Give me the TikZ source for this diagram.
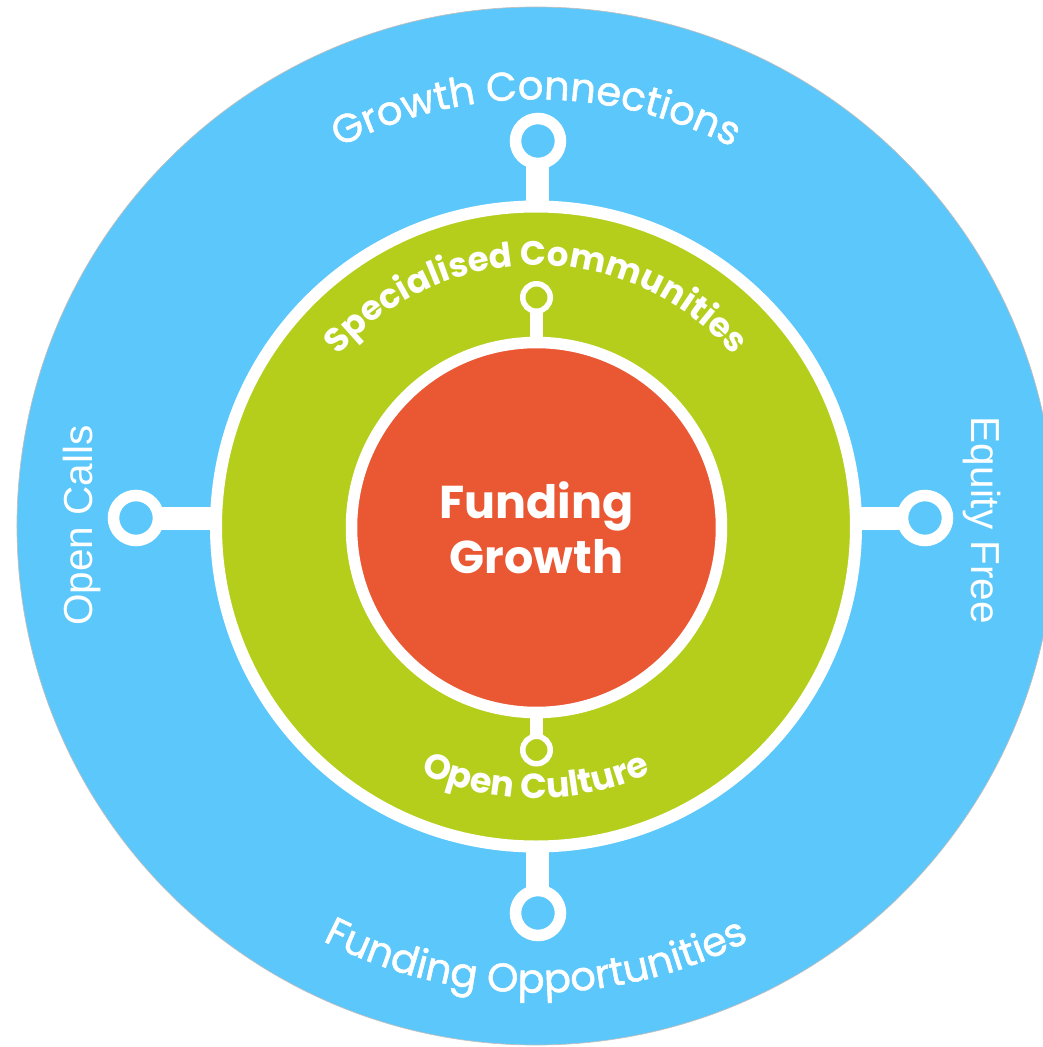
\documentclass[tikz,border=0pt]{standalone}
\usepackage{fontspec}
\usetikzlibrary{decorations.text}
\newfontfamily\popfont{Poppins}
\newfontfamily\popthick{Poppins}[FakeBold=1.3]
\newfontfamily\callfont{Liberation Sans}
\definecolor{ringblue}{HTML}{5BC7FA}
\definecolor{ringgreen}{HTML}{B5CE1B}
\definecolor{corered}{HTML}{EA5733}
\newcommand\outerfont{\popthick\fontsize{40}{48}\selectfont}
\newcommand\innerfont{\popfont\bfseries\fontsize{34}{40}\selectfont}
\begin{document}
\begin{tikzpicture}[x=1pt,y=1pt,
  pin/.style={circle,draw=white,fill=ringblue,line width=11.5pt,minimum size=45pt,inner sep=0pt},
  minipin/.style={circle,draw=white,fill=ringgreen,line width=5.5pt,minimum size=27.5pt,inner sep=0pt},
  stem/.style={white,line width=23pt,shorten <=-6pt,shorten >=-3pt},
  ministem/.style={white,line width=13pt,shorten <=-3pt,shorten >=-3pt},
  sidetext/.style={text=white,font=\callfont\fontsize{40.5}{48}\selectfont,inner sep=0pt,anchor=base},
  arclabel/.style={decorate,decoration={text along path,text align=center,text color=white,text={#1}}}]
   \useasboundingbox (-536,-520) rectangle (507,527);
   \node[circle,fill=ringblue,draw=black!25,line width=0.7pt,minimum size=1038pt,inner sep=0pt] (disc) at (0,1) {};
   \node[circle,fill=ringgreen,draw=white,line width=12pt,minimum size=640pt,inner sep=0pt] (mid) at (0,0.5) {};
   \node[circle,fill=corered,draw=white,line width=11.5pt,minimum size=370pt,inner sep=0pt,
    text=white,align=center,font=\popfont\bfseries\fontsize{46}{55}\selectfont] (core) at (0.5,-0.5) {Funding\\Growth};
   \foreach \p/\x/\y in {N/2/386,S/2/-386,W/-400/9,E/389/9}
    \node[pin] (pin\p) at (\x,\y) {};
   \node[minipin] (pinIN) at (0.5,229.5) {};
   \node[minipin] (pinIS) at (0.5,-223) {};
   \draw[stem] (pinN) -- (pinN |- mid.north);
   \draw[stem] (pinS) -- (pinS |- mid.south);
   \draw[stem] (pinW) -- (pinW -| mid.west);
   \draw[stem] (pinE) -- (pinE -| mid.east);
   \draw[ministem] (pinIN) -- (pinIN |- core.north);
   \draw[ministem] (pinIS) -- (pinIS |- core.south);
   \path[arclabel={|\outerfont|Growth Connections}]
    (0,0.5) ++(160:427) arc[start angle=160,end angle=20,radius=427];
   \path[arclabel={|\outerfont|Funding Opportunities}]
    (0,0.5) ++(-160:466) arc[start angle=-160,end angle=-20,radius=466];
   \path[arclabel={|\innerfont|Specialised Communities}]
    (0,0.5) ++(160:261) arc[start angle=160,end angle=20,radius=261];
   \path[arclabel={|\innerfont\fontsize{35}{40}\selectfont|Open Culture}]
    (0,0.5) ++(-160:272) arc[start angle=-160,end angle=-20,radius=272];
   \node[sidetext,rotate=90] (calls) at (-443,1.5) {Open Calls};
   \node[sidetext,rotate=-90] (equity) at (435,6.5) {Equity Free};
\end{tikzpicture}
\end{document}
